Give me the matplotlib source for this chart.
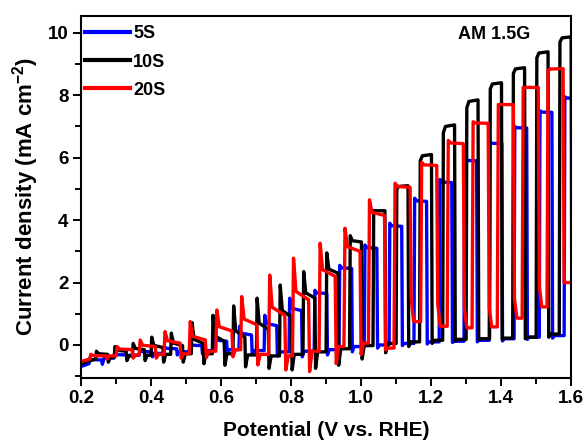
import numpy as np
import matplotlib
matplotlib.use("Agg")
import matplotlib.pyplot as plt
from matplotlib.ticker import MultipleLocator

plt.rcParams['font.family'] = ['Liberation Sans', 'DejaVu Sans']
plt.rcParams['font.weight'] = 'bold'
plt.rcParams['mathtext.fontset'] = 'custom'
plt.rcParams['mathtext.bf'] = 'Liberation Sans:bold'
plt.rcParams['mathtext.rm'] = 'Liberation Sans:bold'

# chopped-light LSV, one entry per light cycle
# (potential where light goes on, dark current before it, transient peak,
#  current at end of light, current just after light off)
blue_on = [0.223, 0.294, 0.366, 0.437, 0.509, 0.580, 0.651, 0.723, 0.794, 0.866,
           0.937, 1.009, 1.080, 1.151, 1.223, 1.294, 1.366, 1.437, 1.509, 1.580]
blue_dark = [-0.60, -0.42, -0.33, -0.27, -0.22, -0.18, -0.15, -0.18, -0.22, -0.20,
             -0.15, -0.05, 0.00, 0.05, 0.10, 0.12, 0.15, 0.20, 0.25, 0.30]
blue_peak = [-0.42, -0.26, -0.16, -0.06, 0.05, 0.30, 0.60, 0.95, 1.50, 1.75,
             2.55, 3.20, 3.90, 4.70, 5.30, 5.95, 6.50, 7.00, 7.50, 7.95]
blue_light = [-0.48, -0.32, -0.22, -0.12, -0.02, 0.12, 0.32, 0.62, 1.10, 1.65,
              2.45, 3.10, 3.80, 4.60, 5.20, 5.90, 6.45, 6.95, 7.45, 7.90]
blue_off = [-0.62, -0.46, -0.38, -0.32, -0.28, -0.28, -0.30, -0.35, -0.38, -0.32,
            -0.22, -0.10, -0.02, 0.03, 0.08, 0.10, 0.13, 0.18, 0.22, 0.28]

black_on = [0.242, 0.295, 0.347, 0.400, 0.456, 0.515, 0.575, 0.634, 0.701, 0.767, 0.834,
            0.900, 0.967, 1.034, 1.100, 1.167, 1.233, 1.300, 1.367, 1.433, 1.500, 1.566]
black_dark = [-0.45, -0.40, -0.35, -0.33, -0.30, -0.28, -0.28, -0.28, -0.32, -0.35, -0.30,
              -0.22, -0.12, -0.02, 0.05, 0.10, 0.15, 0.18, 0.20, 0.22, 0.25, 0.35]
black_peak = [-0.20, -0.05, 0.05, 0.25, 0.38, 0.72, 0.95, 1.25, 1.50, 1.92, 2.35,
              2.95, 3.50, 4.30, 5.00, 5.90, 6.80, 7.60, 8.20, 8.70, 9.20, 9.70]
black_light = [-0.30, -0.20, -0.15, -0.08, -0.02, 0.05, 0.12, 0.25, 0.50, 0.90, 1.50,
               2.30, 3.30, 4.30, 5.10, 6.10, 7.05, 7.85, 8.40, 8.88, 9.39, 9.87]
black_off = [-0.55, -0.50, -0.50, -0.55, -0.55, -0.60, -0.65, -0.70, -0.75, -0.80, -0.75,
             -0.65, -0.45, -0.25, -0.05, 0.05, 0.12, 0.16, 0.18, 0.20, 0.25, 0.35]

red_on = [0.225, 0.300, 0.366, 0.437, 0.509, 0.585, 0.656, 0.736, 0.804, 0.880,
          0.951, 1.021, 1.094, 1.170, 1.246, 1.317, 1.389, 1.460, 1.531]
red_dark = [-0.45, -0.35, -0.32, -0.30, -0.28, -0.20, -0.15, -0.30, -0.35, -0.20,
            -0.05, 0.06, -0.10, 0.75, 0.60, 0.55, 0.58, 0.86, 1.22]
red_peak = [-0.30, -0.05, 0.16, 0.43, 0.75, 1.12, 1.55, 2.24, 2.78, 3.26,
            3.74, 4.65, 5.18, 5.85, 6.55, 7.15, 7.70, 8.25, 8.80]
red_light = [-0.35, -0.15, -0.05, 0.06, 0.16, 0.45, 0.65, 0.95, 1.45, 2.20,
             3.00, 4.15, 5.05, 5.75, 6.45, 7.10, 7.70, 8.25, 8.85]
red_off = [-0.45, -0.42, -0.42, -0.42, -0.40, -0.38, -0.64, -0.80, -0.85, -0.60,
           -0.30, -0.16, 1.50, 1.30, 1.20, 1.20, 1.50, 1.90, 2.00]

start_j = {'5S': -0.69, '10S': -0.60, '20S': -0.53}


def chop_curve(j0, on, dark, peak, light, off, width, edge, settle):
    v = [0.2]
    j = [j0]
    for i in range(len(on)):
        a = on[i]
        b = a + width
        v += [a, a + edge, a + settle, b, b + edge]
        j += [dark[i], peak[i], light[i] + (peak[i] - light[i]) * 0.2, light[i], off[i]]
        if i + 1 < len(on):
            v.append(b + settle)
            j.append(dark[i + 1])
    v.append(1.65)
    j.append(j[-1])
    return v, j


fig = plt.figure(figsize=(5.87, 4.46), dpi=100)
ax = fig.add_axes([0.138, 0.153, 0.835, 0.812])

curves = [
    ('5S', 'blue', blue_on, blue_dark, blue_peak, blue_light, blue_off, 0.036, 0.002, 0.007),
    ('10S', 'black', black_on, black_dark, black_peak, black_light, black_off, 0.034, 0.002, 0.008),
    ('20S', 'red', red_on, red_dark, red_peak, red_light, red_off, 0.046, 0.003, 0.010),
]
for name, c, on, dark, peak, light, off, w, e, s in curves:
    v, j = chop_curve(start_j[name], on, dark, peak, light, off, w, e, s)
    ax.plot(v, j, color=c, lw=2.4, label=name, solid_joinstyle='round')

ax.set_xlim(0.2, 1.6)
ax.set_ylim(-1.05, 10.55)
ax.xaxis.set_major_locator(MultipleLocator(0.2))
ax.xaxis.set_minor_locator(MultipleLocator(0.1))
ax.yaxis.set_major_locator(MultipleLocator(2))
ax.yaxis.set_minor_locator(MultipleLocator(1))
ax.tick_params(which='both', direction='out', top=False, right=False, width=1.4,
               labelsize=13.5, pad=3)
ax.tick_params(which='major', length=6)
ax.tick_params(which='minor', length=4)
for sp in ax.spines.values():
    sp.set_linewidth(1.5)

ax.set_xlabel('Potential (V vs. RHE)', fontsize=15, fontweight='bold', labelpad=10)
ax.set_ylabel('Current density (mA cm$^{\\mathbf{-2}}$)', fontsize=16, fontweight='bold', labelpad=5)

ax.text(0.842, 0.972, 'AM 1.5G', transform=ax.transAxes, ha='center', va='top',
        fontsize=13, fontweight='bold')
leg = ax.legend(loc='upper left', bbox_to_anchor=(0.0, 0.983), frameon=False,
                handlelength=2.5, handletextpad=0.2, labelspacing=0.62,
                borderpad=0.2, borderaxespad=0.0,
                prop={'weight': 'bold', 'size': 13})
for line in leg.get_lines():
    line.set_linewidth(3)

fig.savefig('out.png', dpi=100)
